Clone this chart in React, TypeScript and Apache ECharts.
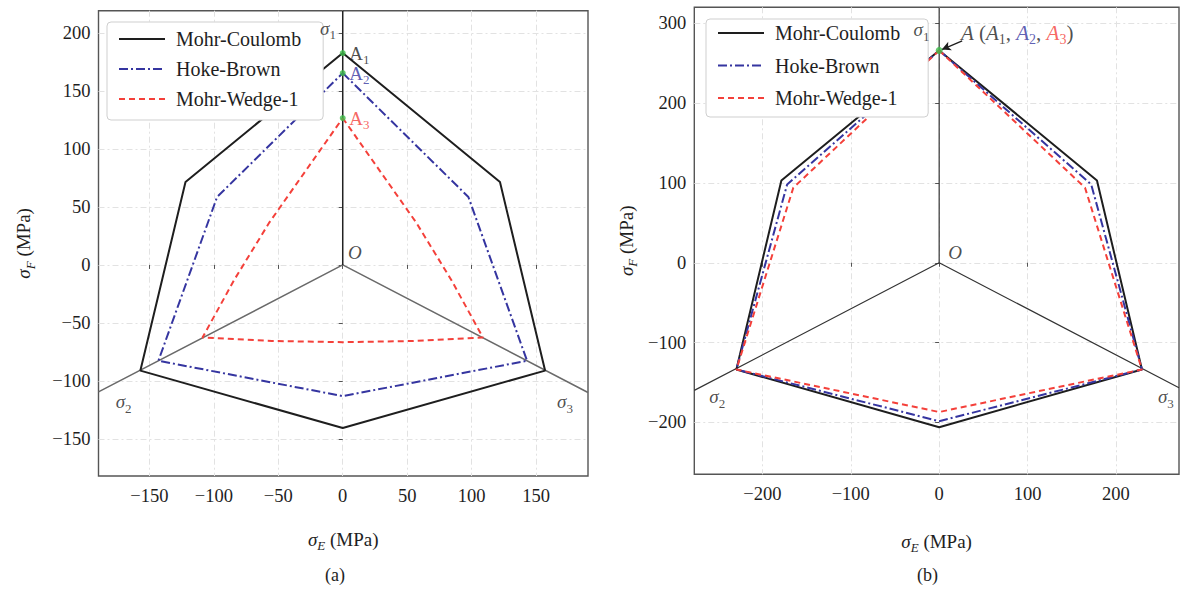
import React, { useEffect, useRef } from "react";
import * as echarts from "echarts";

// ---------- data ----------
// panel (a)
const rangeAX = [-189.5, 190.3];
const rangeAY = [-181.8, 219];
const mcA = [[0, 182.5], [122, 71.4], [157, -91], [0, -140.5], [-157, -91], [-122, 71.4], [0, 182.5]];
const hbA = [[0, 165.3], [97.5, 58.5], [143, -82.5], [0, -113], [-143, -82.5], [-97.5, 58.5], [0, 165.3]];
const mwA = [
  [0, 126.5], [28.5, 81.5], [57, 36.5], [84, -12.5], [108.8, -62.5],
  [55, -65.5], [0, -66.5], [-55, -65.5], [-108.8, -62.5],
  [-84, -12.5], [-57, 36.5], [-28.5, 81.5], [0, 126.5],
];
const raysA = [[-189.5, -109.4], [0, 0], [190.3, -109.9]];
const sigma1A = [[0, 0], [0, 219]];
const peaksA = [[0, 182.5], [0, 165.3], [0, 126.5]];

// panel (b)
const rangeBX = [-277, 271.3];
const rangeBY = [-265, 320];
const mcB = [[0, 266], [178.5, 103], [229.4, -133.7], [0, -206], [-229.4, -133.7], [-178.5, 103], [0, 266]];
const hbB = [[0, 266], [172, 98], [229.4, -133.7], [0, -198.5], [-229.4, -133.7], [-172, 98], [0, 266]];
const mwB = [[0, 266], [165, 94], [229.4, -133.7], [0, -187], [-229.4, -133.7], [-165, 94], [0, 266]];
const raysB = [[-277, -159.9], [0, 0], [271.3, -156.6]];
const sigma1B = [[0, 0], [0, 320]];
const peaksB = [[0, 266]];

const seriesNames = ["Mohr-Coulomb", "Hoke-Brown", "Mohr-Wedge-1"];

// ---------- styles ----------
const SERIF = "'Liberation Serif', 'DejaVu Serif', serif";
const BLACK = "#1e1e1e";
const BLUE = "#3535a0";
const RED = "#f4403a";
const GREEN = "#3dbb4a";

const rich = {
  s: { fontFamily: SERIF, fontStyle: "italic", fontSize: 19, color: BLACK, lineHeight: 26 },
  r: { fontFamily: SERIF, fontSize: 19, color: BLACK, lineHeight: 26 },
  rb: { fontFamily: SERIF, fontSize: 19, color: BLUE, lineHeight: 26 },
  rr: { fontFamily: SERIF, fontSize: 19, color: RED, lineHeight: 26 },
  L: { fontFamily: SERIF, fontStyle: "italic", fontSize: 21, color: BLACK, lineHeight: 28 },
  Lr: { fontFamily: SERIF, fontSize: 21, color: BLACK, lineHeight: 28 },
  Lb: { fontFamily: SERIF, fontStyle: "italic", fontSize: 21, color: BLUE, lineHeight: 28 },
  Lred: { fontFamily: SERIF, fontStyle: "italic", fontSize: 21, color: RED, lineHeight: 28 },
  sub: { fontFamily: SERIF, fontSize: 13, color: BLACK, verticalAlign: "bottom", lineHeight: 13 },
  subL: { fontFamily: SERIF, fontSize: 14, color: BLACK, verticalAlign: "bottom", lineHeight: 14 },
  subLb: { fontFamily: SERIF, fontSize: 14, color: BLUE, verticalAlign: "bottom", lineHeight: 14 },
  subLr: { fontFamily: SERIF, fontSize: 14, color: RED, verticalAlign: "bottom", lineHeight: 14 },
  subi: { fontFamily: SERIF, fontSize: 13, fontStyle: "italic", color: BLACK, verticalAlign: "bottom", lineHeight: 13 },
  subb: { fontFamily: SERIF, fontSize: 13, color: BLUE, verticalAlign: "bottom", lineHeight: 13 },
  subr: { fontFamily: SERIF, fontSize: 13, color: RED, verticalAlign: "bottom", lineHeight: 13 },
};

const minus = (v: number) => String(v).replace("-", "\u2212");

function makeAxes(idx: number, xr: number[], yr: number[], xGap: number, yGap: number, xSplit: number, ySplit: number) {
  const common = {
    gridIndex: idx,
    type: "value",
    axisLine: { show: false },
    axisTick: { show: true, inside: false, length: 4, lineStyle: { color: "#555", width: 1 } },
    splitLine: {
      show: true,
      showMinLine: false,
      showMaxLine: false,
      lineStyle: { color: "#e2e2e2", width: 1, type: [6, 3, 2, 3] },
    },
    axisLabel: {
      show: true,
      showMinLabel: false,
      showMaxLabel: false,
      fontFamily: SERIF,
      fontSize: 18.5,
      color: BLACK,
      formatter: minus,
    },
    nameLocation: "middle",
    nameTextStyle: { fontFamily: SERIF, fontSize: 19, color: BLACK, rich },
  };
  const x = {
    ...common,
    min: xr[0],
    max: xr[1],
    splitNumber: xSplit,
    axisLabel: { ...common.axisLabel, margin: 10 },
    name: "{s|\u03c3}{subi|E}{r| (MPa)}",
    nameGap: xGap,
  };
  const y = {
    ...common,
    min: yr[0],
    max: yr[1],
    splitNumber: ySplit,
    axisLabel: { ...common.axisLabel, margin: 8 },
    name: "{s|\u03c3}{subi|F}{r| (MPa)}",
    nameGap: yGap,
    nameRotate: 90,
  };
  return { x, y };
}

function lineSeries(name: string, idx: number, data: number[][], color: string, type: any, width = 2, z = 3) {
  return {
    name,
    type: "line",
    xAxisIndex: idx,
    yAxisIndex: idx,
    data,
    symbol: "none",
    smooth: false,
    silent: true,
    z,
    lineStyle: { color, width, type },
    itemStyle: { color },
  };
}

function labelSeries(idx: number, items: any[]) {
  return {
    name: "labels" + idx,
    type: "scatter",
    xAxisIndex: idx,
    yAxisIndex: idx,
    symbolSize: 1,
    silent: true,
    z: 30,
    itemStyle: { color: "rgba(0,0,0,0)" },
    data: items.map((it) => ({
      value: it.at,
      label: {
        show: true,
        position: it.pos || "inside",
        distance: it.dist ?? 5,
        formatter: it.text,
        color: BLACK,
        textBorderWidth: 0,
        rich,
      },
    })),
  };
}

export default function App() {
  const ref = useRef<HTMLDivElement>(null);
  useEffect(() => {
    if (!ref.current) return;
    const chart = echarts.init(ref.current, undefined, { renderer: "svg" });
    const a = makeAxes(0, rangeAX, rangeAY, 50, 62, 8, 8);
    const b = makeAxes(1, rangeBX, rangeBY, 54, 55, 5, 5);
    const dashDot = [9, 3, 2, 3];
    const dash = [6, 4];

    const legendCommon = {
      orient: "vertical",
      itemWidth: 46,
      itemHeight: 14,
      itemGap: 8,
      backgroundColor: "#fff",
      borderColor: "#cfcfcf",
      borderWidth: 1,
      borderRadius: 4,
      padding: [6, 22, 10, 11],
      itemStyle: { opacity: 0 },
      textStyle: { fontFamily: SERIF, fontSize: 20, color: BLACK, lineHeight: 22, padding: [0, 0, 0, 6] },
      data: seriesNames,
      selectedMode: false,
      z: 10,
    };

    const option = {
      animation: false,
      backgroundColor: "#fff",
      grid: [
        { left: 98.5, top: 10.7, width: 489.5, height: 465.3, show: true, borderColor: "#555", borderWidth: 1.4, backgroundColor: "transparent", containLabel: false },
        { left: 694.3, top: 7.3, width: 484.7, height: 467, show: true, borderColor: "#555", borderWidth: 1.4, backgroundColor: "transparent", containLabel: false },
      ],
      xAxis: [a.x, b.x],
      yAxis: [a.y, b.y],
      legend: [
        { ...legendCommon, left: 107, top: 22 },
        { ...legendCommon, left: 706, top: 19, itemGap: 10.5, padding: [3, 28, 8, 11] },
      ],
      graphic: [
        { type: "text", left: 325, top: 566, style: { text: "(a)", font: `18px ${SERIF}`, fill: BLACK } },
        { type: "text", left: 917, top: 566, style: { text: "(b)", font: `18px ${SERIF}`, fill: BLACK } },
      ],
      series: [
        // panel a
        lineSeries("rays-a", 0, raysA, "#6a6a6a", "solid", 1.5, 2),
        lineSeries("sigma1-a", 0, sigma1A, "#222", "solid", 1.5, 2),
        lineSeries(seriesNames[0], 0, mcA, BLACK, "solid", 2),
        lineSeries(seriesNames[1], 0, hbA, BLUE, dashDot, 2),
        lineSeries(seriesNames[2], 0, mwA, RED, dash, 2),
        {
          name: "peaks-a",
          type: "scatter",
          xAxisIndex: 0,
          yAxisIndex: 0,
          data: peaksA,
          symbolSize: 6,
          itemStyle: { color: GREEN },
          silent: true,
          z: 5,
        },
        labelSeries(0, [
          { at: [-11.4, 204], text: "{s|\u03c3}{sub|1}" },
          { at: peaksA[0], pos: "right", dist: 6, text: "{r|A}{sub|1}" },
          { at: peaksA[1], pos: "right", dist: 6, text: "{rb|A}{subb|2}" },
          { at: peaksA[2], pos: "right", dist: 6, text: "{rr|A}{subr|3}" },
          { at: [9.5, 10.3], text: "{s|O}" },
          { at: [-170, -118], text: "{s|\u03c3}{sub|2}" },
          { at: [172.5, -118], text: "{s|\u03c3}{sub|3}" },
        ]),
        // panel b
        lineSeries("rays-b", 1, raysB, "#333", "solid", 1.2, 2),
        {
          ...lineSeries("sigma1-b", 1, sigma1B, "#333", "solid", 1.2, 2),
          markLine: {
            silent: true,
            symbol: ["none", "arrow"],
            symbolSize: [7, 9],
            label: { show: false },
            lineStyle: { color: BLACK, width: 1.3, type: "solid" },
            data: [[{ coord: [26, 278] }, { coord: [3, 267] }]],
          },
        },
        lineSeries(seriesNames[0], 1, mcB, BLACK, "solid", 2),
        lineSeries(seriesNames[1], 1, hbB, BLUE, dashDot, 2),
        lineSeries(seriesNames[2], 1, mwB, RED, dash, 2),
        {
          name: "peaks-b",
          type: "scatter",
          xAxisIndex: 1,
          yAxisIndex: 1,
          data: peaksB,
          symbolSize: 7,
          itemStyle: { color: GREEN },
          silent: true,
          z: 5,
        },
        labelSeries(1, [
          { at: [-20, 291.6], text: "{s|\u03c3}{sub|1}" },
          {
            at: [24, 288],
            pos: "right",
            dist: 0,
            text: "{L|A}{Lr| (}{L|A}{subL|1}{Lr|, }{Lb|A}{subLb|2}{Lr|, }{Lred|A}{subLr|3}{Lr|)}",
          },
          { at: [18, 13.4], text: "{s|O}" },
          { at: [-251, -168], text: "{s|\u03c3}{sub|2}" },
          { at: [256.5, -168], text: "{s|\u03c3}{sub|3}" },
        ]),
      ],
    };
    chart.setOption(option as any);
    return () => chart.dispose();
  }, []);
  return (
    <div
      ref={ref}
      style={{ position: "absolute", left: 0, top: 0, width: 1180, height: 597, background: "#fff" }}
    />
  );
}
